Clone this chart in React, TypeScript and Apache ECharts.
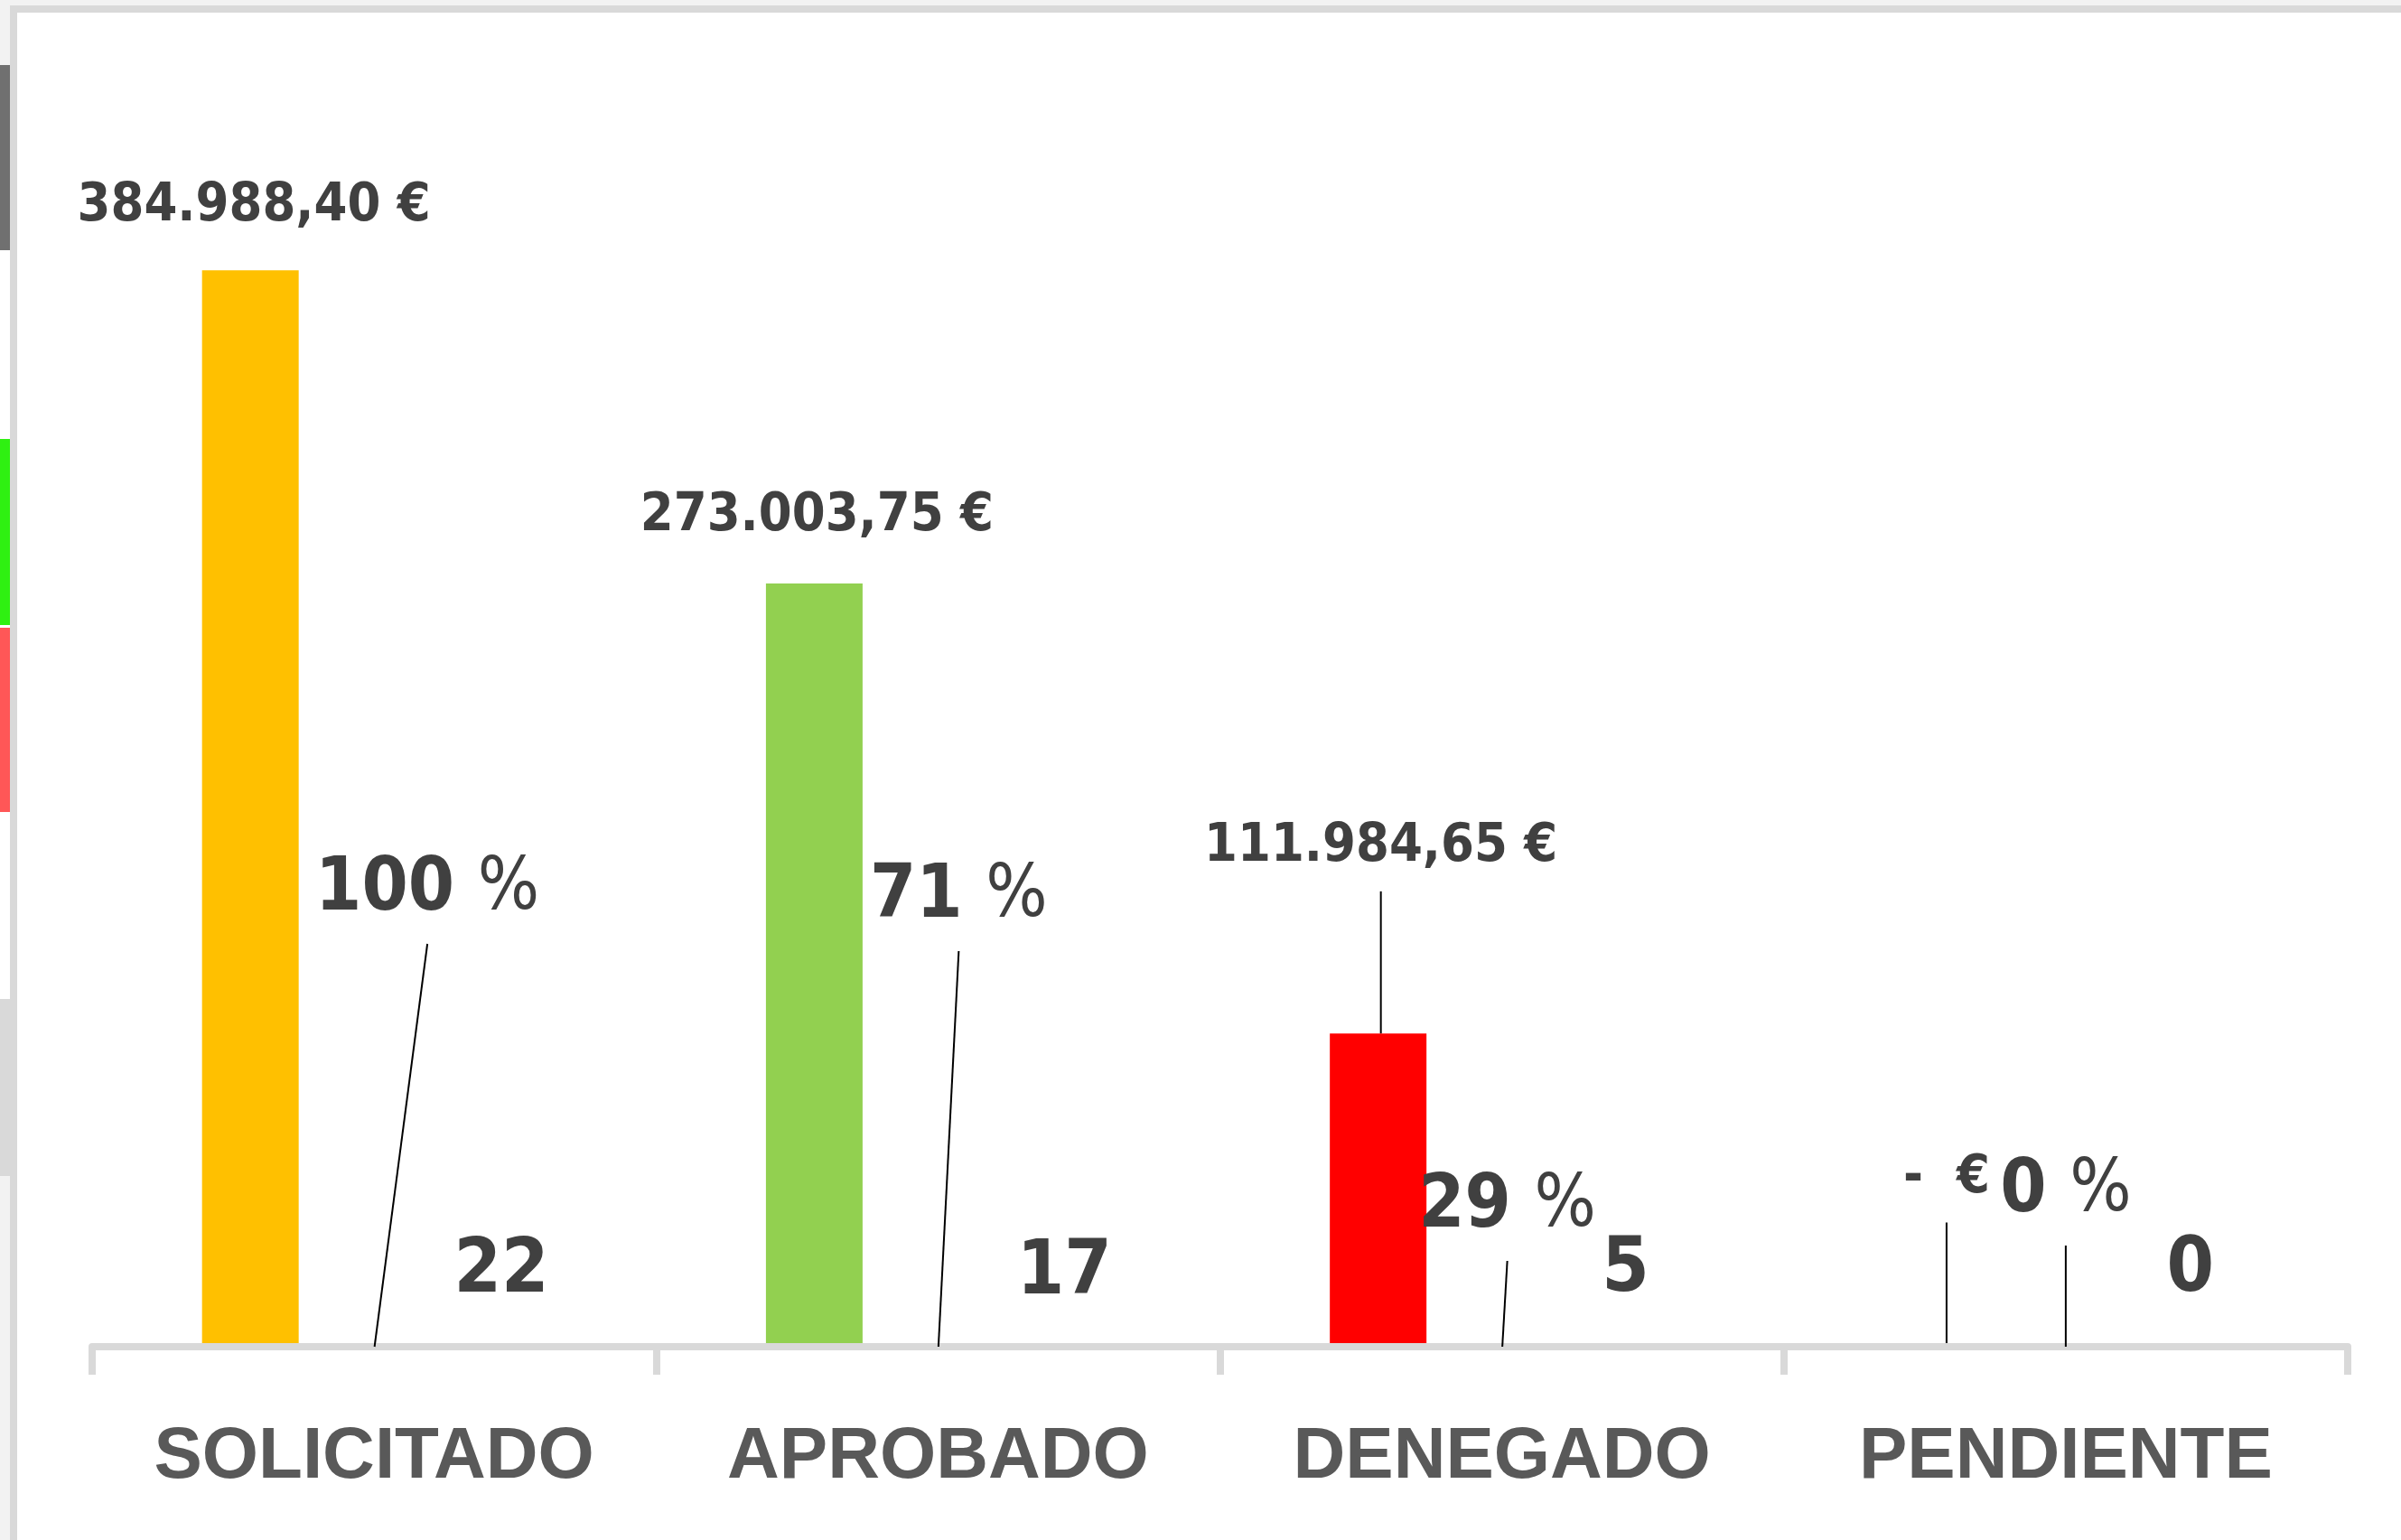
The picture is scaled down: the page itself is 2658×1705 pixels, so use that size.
import React, { useEffect, useRef } from "react";
import * as echarts from "echarts";

// ---------- data ----------
const categories = ["SOLICITADO", "APROBADO", "DENEGADO", "PENDIENTE"];
const amounts = [384988.4, 273003.75, 111984.65, 0];
const shares = [1.0, 0.71, 0.29, 0];
const counts = [22, 17, 5, 0];

// ---------- styling / layout ----------
const barColors = ["#ffc000", "#92d050", "#ff0000", "#a5a5a5"];
// label offsets in px relative to the bar anchor (top of bar for amounts, axis for the others)
const amountLabelOffsets = [[4, -76], [3, -79], [3, -212], [5, -192]];
const shareLabelOffsets = [[59, -513], [23, -505], [6, -162], [0, -179]];
const countLabelOffsets = [[4, -90], [3, -88], [0, -91], [1, -91]];
const amountLeader = [false, false, true, true];

const SANS = '"Liberation Sans", Arial, sans-serif';
const COND = '"DejaVu Sans Condensed", "DejaVu Sans", sans-serif';
const LABEL_COLOR = "#404040";

function fmtEuro(v: number): string {
  if (v === 0) return "-\u00A0\u00A0€";
  const [i, d] = v.toFixed(2).split(".");
  const ip = i.replace(/\B(?=(\d{3})+(?!\d))/g, ".");
  return `${ip},${d} €`;
}

const layoutFrom = (offsets: number[][], anchor: "top" | "bottom") => (p: any) => {
  const r = p.rect;
  const top = Math.min(r.y, r.y + r.height);
  const bottom = Math.max(r.y, r.y + r.height);
  const cx = r.x + r.width / 2;
  const [dx, dy] = offsets[p.dataIndex];
  return {
    x: cx + dx,
    y: (anchor === "top" ? top : bottom) + dy,
    align: "center",
    verticalAlign: "middle",
  };
};

const frameRects = [
  // spreadsheet surroundings visible around the chart
  { x: 0, y: 0, w: 2658, h: 6, c: "#f2f2f2" },
  { x: 11, y: 6, w: 2647, h: 8, c: "#d9d9d9" },
  { x: 11, y: 6, w: 8, h: 1699, c: "#d9d9d9" },
  { x: 0, y: 0, w: 11, h: 72, c: "#f2f2f2" },
  { x: 0, y: 72, w: 11, h: 205, c: "#707070" },
  { x: 0, y: 486, w: 11, h: 206, c: "#2ff012" },
  { x: 0, y: 695, w: 11, h: 204, c: "#ff5757" },
  { x: 0, y: 1106, w: 11, h: 196, c: "#d9d9d9" },
  { x: 0, y: 1302, w: 11, h: 403, c: "#f2f2f2" },
];

const leaderStyle = { color: "#000000", width: 2 };

export default function App() {
  const ref = useRef<HTMLDivElement>(null);
  useEffect(() => {
    const chart = echarts.init(ref.current!, null, { renderer: "svg" });
    const option: any = {
      animation: false,
      backgroundColor: "#ffffff",
      grid: { left: 102, right: 59, top: 98, bottom: 214, containLabel: false },
      graphic: frameRects.map((r) => ({
        type: "rect",
        silent: true,
        z: 0,
        shape: { x: r.x, y: r.y, width: r.w, height: r.h },
        style: { fill: r.c },
      })),
      xAxis: [
        {
          type: "category",
          data: categories,
          z: 3,
          axisLine: { show: true, lineStyle: { color: "#d9d9d9", width: 8 } },
          axisTick: { show: true, length: 31, lineStyle: { color: "#d9d9d9", width: 8 } },
          axisLabel: {
            interval: 0,
            margin: 77,
            fontSize: 80,
            lineHeight: 80,
            fontWeight: "bold",
            color: "#595959",
            fontFamily: SANS,
          },
          splitLine: { show: false },
        },
        {
          // hidden twin axis: places the percentage series at each category centre
          type: "category",
          data: categories,
          show: false,
          position: "bottom",
        },
      ],
      yAxis: {
        type: "value",
        min: 0,
        max: 450000,
        show: false,
        splitLine: { show: false },
      },
      series: [
        {
          type: "bar",
          name: "Importe",
          xAxisIndex: 0,
          z: 2,
          barWidth: 107,
          barGap: "156%",
          data: amounts.map((v, i) => ({
            value: v,
            itemStyle: { color: barColors[i] },
            labelLine: { show: amountLeader[i] },
          })),
          label: {
            show: true,
            position: "top",
            formatter: (p: any) => fmtEuro(p.value),
            fontFamily: COND,
            fontWeight: "bold",
            fontSize: 59,
            lineHeight: 59,
            color: LABEL_COLOR,
            padding: [25, 0, 25, 0],
          },
          labelLine: { show: true, lineStyle: leaderStyle },
          labelLayout: layoutFrom(amountLabelOffsets, "top"),
        },
        {
          type: "bar",
          name: "Número",
          xAxisIndex: 0,
          z: 4,
          barWidth: 107,
          barGap: "156%",
          itemStyle: { color: "transparent" },
          data: counts,
          label: {
            show: true,
            position: "top",
            formatter: (p: any) => `${p.value}`,
            fontFamily: COND,
            fontWeight: "bold",
            fontSize: 84,
            lineHeight: 84,
            color: LABEL_COLOR,
          },
          labelLine: { show: false },
          labelLayout: layoutFrom(countLabelOffsets, "bottom"),
        },
        {
          type: "bar",
          name: "Porcentaje",
          xAxisIndex: 1,
          z: 4,
          barWidth: 1,
          itemStyle: { color: "transparent" },
          data: shares,
          label: {
            show: true,
            position: "top",
            formatter: (p: any) => `{b|${Math.round(p.value * 100)} }{r|%}`,
            backgroundColor: "rgba(255,255,255,0)",
            padding: [25, 0, 25, 0],
            rich: {
              b: { fontFamily: COND, fontWeight: "bold", fontSize: 82, lineHeight: 84, color: LABEL_COLOR },
              r: { fontFamily: COND, fontWeight: "normal", fontSize: 80, lineHeight: 84, color: LABEL_COLOR },
            },
          },
          labelLine: { show: true, lineStyle: leaderStyle },
          labelLayout: layoutFrom(shareLabelOffsets, "bottom"),
        },
      ],
    };
    chart.setOption(option);
    return () => chart.dispose();
  }, []);
  return (
    <div
      ref={ref}
      style={{ position: "fixed", left: 0, top: 0, width: 2658, height: 1705, background: "#ffffff" }}
    />
  );
}
